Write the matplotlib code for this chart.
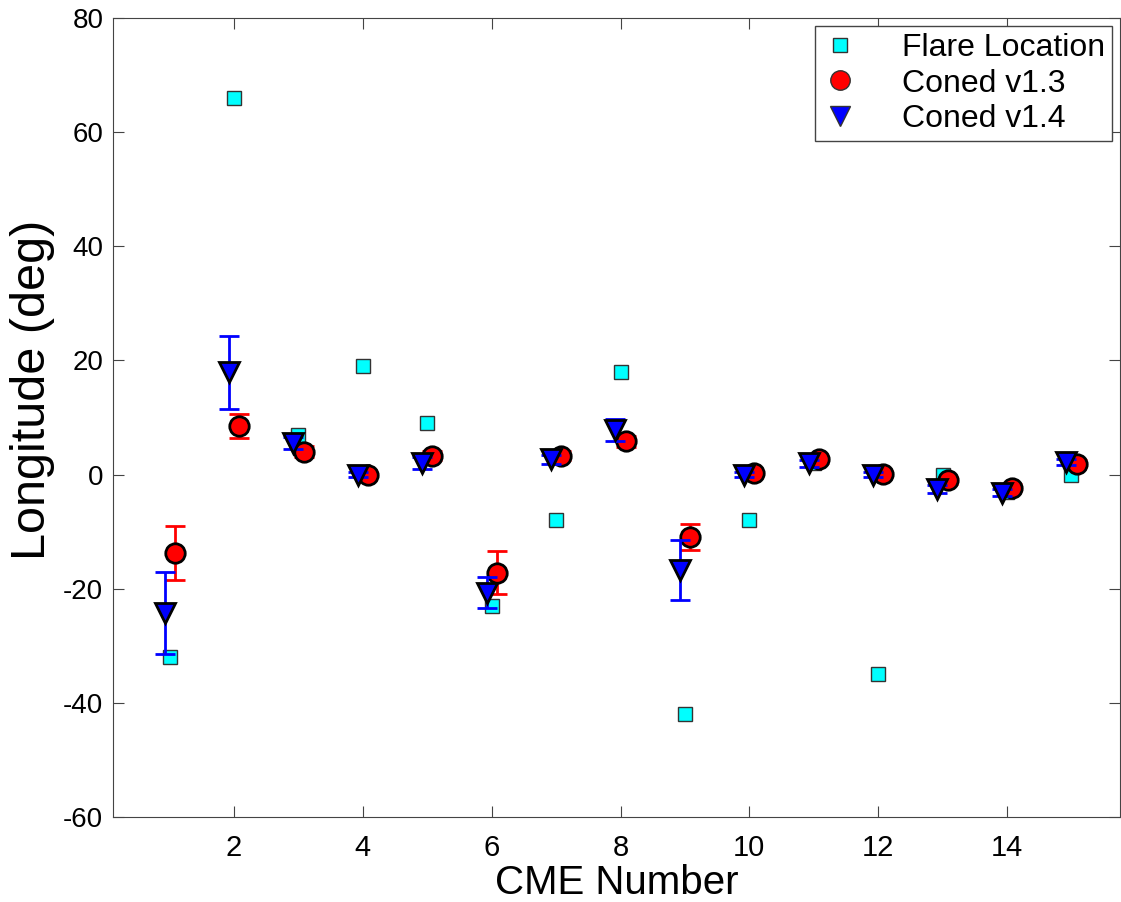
import matplotlib.pyplot as plt
from matplotlib.lines import Line2D
import numpy as np

plt.rcParams['font.family'] = ['Liberation Sans', 'DejaVu Sans']
plt.rcParams['axes.unicode_minus'] = False

cme = np.arange(1, 16)
flare = [-32, 66, 7, 19, 9, -23, -8, 18, -42, -8, 2, -35, 0, -3, 0]
v13 = [-13.7, 8.5, 4.0, 0.0, 3.3, -17.2, 3.3, 5.8, -10.9, 0.2, 2.7, 0.1, -1.0, -2.3, 1.9]
v13_err = [4.7, 2.1, 1.0, 0.5, 0.8, 3.8, 0.8, 1.0, 2.3, 0.5, 0.6, 0.5, 0.6, 0.6, 0.6]
v14 = [-24.2, 17.9, 5.5, 0.0, 2.0, -20.7, 2.7, 7.8, -16.7, 0.0, 2.0, 0.0, -2.6, -3.2, 2.2]
v14_err = [7.2, 6.4, 1.1, 0.5, 1.0, 2.7, 0.8, 1.9, 5.2, 0.5, 0.6, 0.5, 0.7, 0.6, 0.6]

fig = plt.figure(figsize=(11.21, 9.02), dpi=100)
ax = fig.add_axes([0.1008, 0.0942, 0.898, 0.886])

ax.plot(cme, flare, 's', color='cyan', markeredgecolor='#333333', markersize=10,
        markeredgewidth=1, zorder=2)
ax.errorbar(cme + 0.08, v13, yerr=v13_err, fmt='o', color='red', ecolor='red',
            markeredgecolor='black', markersize=14, markeredgewidth=2,
            elinewidth=2, capsize=7, capthick=2, zorder=3)
ax.errorbar(cme - 0.08, v14, yerr=v14_err, fmt='v', color='blue', ecolor='blue',
            markeredgecolor='black', markersize=15, markeredgewidth=2,
            elinewidth=2, capsize=7, capthick=2, zorder=4)

ax.set_xlim(0.12, 15.75)
ax.set_ylim(-60, 80)
ax.set_xticks(range(2, 16, 2))
ax.set_yticks(range(-60, 81, 20))
ax.tick_params(direction='in', top=True, right=True, length=8,
               color='#444444')
ax.tick_params(axis='x', labelsize=21, pad=12)
ax.tick_params(axis='y', labelsize=20, pad=7)
for s in ax.spines.values():
    s.set_color('#444444')
ax.set_xlabel('CME Number', fontsize=29, labelpad=2)
ax.set_ylabel('Longitude (deg)', fontsize=35)
ax.yaxis.set_label_coords(-0.058, 0.534)

handles = [
    Line2D([], [], ls='none', marker='s', color='cyan', markeredgecolor='#333333',
           markersize=10, markeredgewidth=1),
    Line2D([], [], ls='none', marker='o', color='red', markeredgecolor='#333333',
           markersize=14, markeredgewidth=1),
    Line2D([], [], ls='none', marker='v', color='blue', markeredgecolor='#333333',
           markersize=14, markeredgewidth=1),
]
labels = ['Flare Location', 'Coned v1.3', 'Coned v1.4']
leg = ax.legend(handles, labels, loc='upper right', fontsize=23, fancybox=False,
                framealpha=1, edgecolor='#444444', handletextpad=1.35,
                borderpad=0.22, labelspacing=0.18, handlelength=1.15,
                borderaxespad=0.25)
leg.get_frame().set_linewidth(1)

fig.savefig('out.png', dpi=100)
